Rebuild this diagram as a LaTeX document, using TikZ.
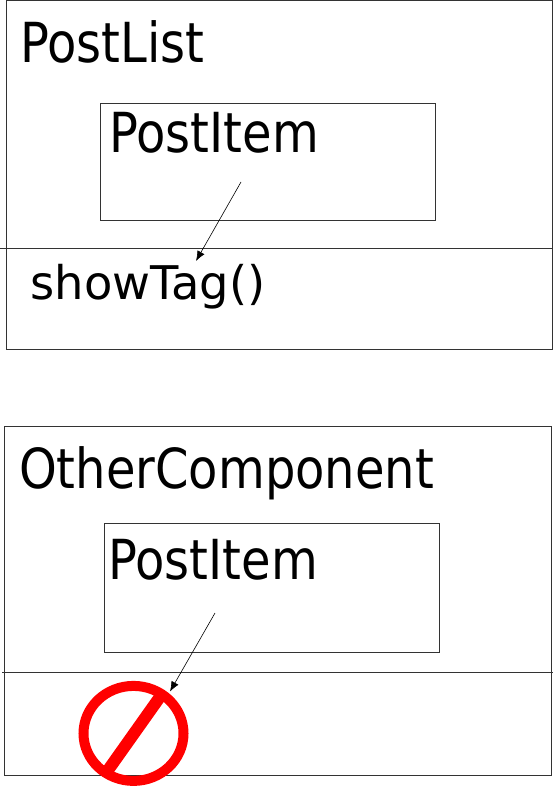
\documentclass[tikz,border=0pt]{standalone}
\usepackage{graphicx}
\usepackage{fontspec}
\usetikzlibrary{arrows.meta}
\setmainfont{DejaVu Sans}
\newcommand{\tallname}[1]{\scalebox{1}[1.15]{#1}}
\tikzset{
  panel/.style={draw=black!80,line width=.6pt,inner sep=0pt,outer sep=0pt,anchor=north west},
  divider/.style={draw=black!80,line width=.6pt},
  title/.style={inner sep=0pt,anchor=base west,font=\fontsize{48}{48}\selectfont},
  pointer/.style={-{Latex[length=10pt,width=8pt]},line width=.6pt},
}

\begin{document}
\begin{tikzpicture}[x=1pt,y=-1pt]
  \path[use as bounding box] (0,0) rectangle (554,786);

  \node[panel,minimum width=546pt,minimum height=349pt] (list) at (6,0) {};
  \node[panel,minimum width=334.5pt,minimum height=117pt] (item1) at (100.3,103.4) {};
  \coordinate (l1) at (0,248.7);
  \coordinate (r1) at (553,248.7);
  \draw[divider] (l1) -- (r1);
  \node[title] (listname) at (20,62.5) {\tallname{PostList}};
  \node[title] (item1name) at (109,153) {\tallname{PostItem}};
  \node[title,font=\fontsize{46.4}{46.4}\selectfont] (tag) at (30.5,299.5) {showTag()};
  \coordinate (a1) at (241,182);
  \coordinate (b1) at (196,261);
  \draw[pointer] (a1) -- (b1);

  \node[panel,minimum width=547pt,minimum height=348.5pt] (other) at (4.3,426.6) {};
  \node[panel,minimum width=334.3pt,minimum height=129pt] (item2) at (104.7,523.3) {};
  \coordinate (l2) at (2,672);
  \coordinate (r2) at (553,672);
  \draw[divider] (l2) -- (r2);
  \node[title] (othername) at (19,488.5) {\tallname{OtherComponent}};
  \node[title] (item2name) at (108,579) {\tallname{PostItem}};
  \coordinate (a2) at (215,613);
  \coordinate (b2) at (170,691.5);
  \draw[pointer] (a2) -- (b2);

  \coordinate (no) at (133.5,733.4);
  \draw[red,line width=10pt] (no) circle [x radius=50,y radius=47.5];
  \draw[red,line width=12pt] (162,694) -- (106,773);
\end{tikzpicture}
\end{document}
